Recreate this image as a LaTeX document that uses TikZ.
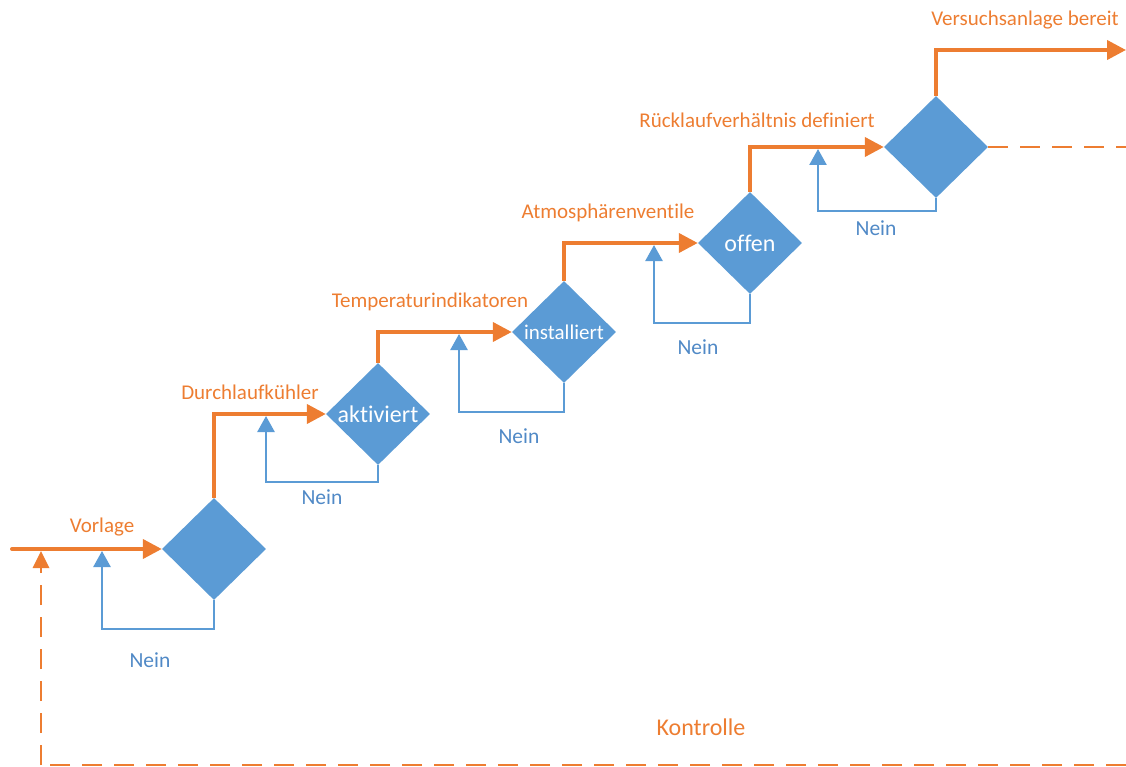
\documentclass[tikz,border=0pt]{standalone}
\usepackage{fontspec}
\setmainfont{Carlito}[Ligatures={NoCommon}]
\usetikzlibrary{shapes.geometric,arrows.meta}
\definecolor{myorange}{HTML}{ED7D31}
\definecolor{myblue}{HTML}{5B9BD5}
\definecolor{textblue}{HTML}{5089C6}
\begin{document}
\begin{tikzpicture}[x=1pt,y=-1pt,
  dia/.style={diamond,fill=myblue,draw=none,inner sep=0pt,minimum width=104pt,minimum height=102pt},
  flow/.style={draw=myorange,line width=4pt,-{Triangle[length=19pt,width=19pt]}},
  back/.style={draw=myblue,line width=2.5pt,-{Triangle[length=16pt,width=17pt]}},
  ctrl/.style={draw=myorange,line width=2.5pt,dash pattern=on 20pt off 12pt},
  olab/.style={text=myorange,font=\fontsize{21}{23}\selectfont,inner sep=0pt},
  blab/.style={text=textblue,font=\fontsize{21.5}{23}\selectfont,inner sep=0pt},
  wlab/.style={text=white,font=\fontsize{24}{26}\selectfont}
]
\useasboundingbox (0,0) rectangle (1126,767);
% diamonds
\node[dia] (d1) at (214,549) {};
\node[dia,label={[wlab]center:aktiviert}] (d2) at (378,414) {};
\node[dia,label={[wlab,font=\fontsize{21}{23}\selectfont]center:installiert}] (d3) at (564,332) {};
\node[dia,label={[wlab]center:offen}] (d4) at (750,243) {};
\node[dia] (d5) at (936,147) {};
% coordinates
\coordinate (in) at (12,549);
\coordinate (ctrlbase) at (41,765);
\coordinate (ctrltip) at (41,551);
\coordinate (ctrlend) at (1126,765);
\coordinate (dashend) at (1126,147);
\coordinate (out) at (1126,50);
% main orange flow
\draw[flow,line cap=round] (in) -- (d1.west);
\draw[flow] (d1.north) |- (d2.west);
\draw[flow] (d2.north) |- (d3.west);
\draw[flow] (d3.north) |- (d4.west);
\draw[flow] (d4.north) |- (d5.west);
\draw[flow] (d5.north) |- (out);
% feedback loops
\coordinate (b1) at (102,629); \coordinate (t1) at (102,551);
\coordinate (b2) at (266,482); \coordinate (t2) at (266,416);
\coordinate (b3) at (459,412); \coordinate (t3) at (459,334);
\coordinate (b4) at (654,323); \coordinate (t4) at (654,245);
\coordinate (b5) at (818,211); \coordinate (t5) at (818,149);
\draw[back] (d1.south) |- (b1) -- (t1);
\draw[back] (d2.south) |- (b2) -- (t2);
\draw[back] (d3.south) |- (b3) -- (t3);
\draw[back] (d4.south) |- (b4) -- (t4);
\draw[back] (d5.south) |- (b5) -- (t5);
% control
\draw[ctrl] (d5.east) -- (dashend);
\draw[ctrl] (ctrlend) -- (ctrlbase);
\draw[ctrl] (ctrlbase) -- (41,568);
\draw[draw=none,fill=myorange] (32.5,568) -- (49.5,568) -- (ctrltip) -- cycle;
% labels
\node[olab] (lv) at (102,527) {Vorlage};
\node[olab] (ld) at (250,392) {Durchlaufkühler};
\node[olab] (lt) at (430,302) {Temperaturindikatoren};
\node[olab] (la) at (608,213) {Atmosphärenventile};
\node[olab] (lr) at (757,120) {Rücklaufverhältnis definiert};
\node[olab] (lb) at (1025,20) {Versuchsanlage bereit};
\node[olab,font=\fontsize{24}{26}\selectfont] (lk) at (701,727) {Kontrolle};
\node[blab] (n1) at (150,660) {Nein};
\node[blab] (n2) at (322,497) {Nein};
\node[blab] (n3) at (519,436) {Nein};
\node[blab] (n4) at (698,347) {Nein};
\node[blab] (n5) at (876,228) {Nein};
\end{tikzpicture}
\end{document}
